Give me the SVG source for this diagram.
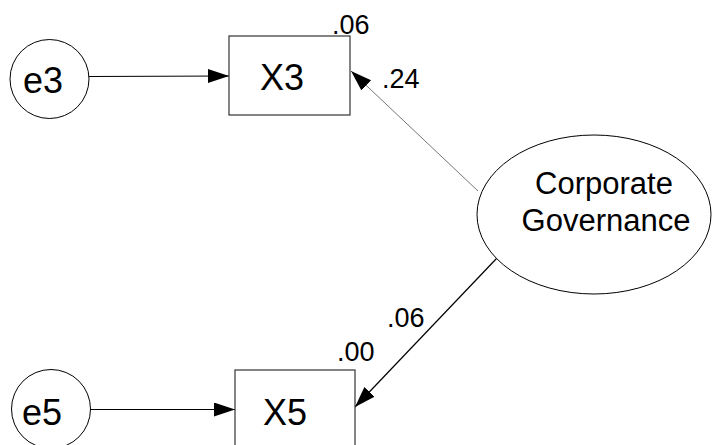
<svg xmlns="http://www.w3.org/2000/svg" width="712" height="445" viewBox="0 0 712 445">
  <style>
    .shape { fill: #ffffff; stroke: #000000; stroke-width: 1; }
    .box { fill: #ffffff; stroke: #333333; stroke-width: 1.2; }
    .lbl { font-family: "Liberation Sans", Arial, sans-serif; fill: #000000; }
    .node { font-size: 36px; }
    .latent { font-size: 31px; }
    .coef { font-size: 27px; }
    .path { stroke: #000000; stroke-width: 1.2; fill: none; }
    .thin { stroke: #777777; stroke-width: 1; fill: none; }
  </style>
  <defs>
    <marker id="head" markerUnits="userSpaceOnUse" markerWidth="22" markerHeight="15" refX="21" refY="7" orient="auto">
      <path d="M0,0 L21,7 L0,14 Z" fill="#000000"/>
    </marker>
  </defs>

  <rect width="712" height="445" fill="#ffffff"/>

  <!-- paths between variables -->
  <g id="connectors">
    <line class="path" x1="89" y1="76.5" x2="229" y2="76" marker-end="url(#head)"/>
    <line class="thin" x1="478" y1="191" x2="351" y2="71" marker-end="url(#head)"/>
    <line class="path" x1="497" y1="258" x2="355" y2="407" marker-end="url(#head)"/>
    <line class="path" x1="91" y1="409.5" x2="235" y2="409.5" marker-end="url(#head)"/>
  </g>

  <!-- error term e3 -->
  <g id="e3">
    <circle class="shape" cx="49.5" cy="79" r="39.5"/>
    <text class="lbl node" x="23" y="93">e3</text>
  </g>

  <!-- observed X3 -->
  <g id="X3">
    <rect class="box" x="229" y="36" width="121" height="79"/>
    <text class="lbl node" x="260" y="90">X3</text>
    <text class="lbl coef" x="332" y="34">.06</text>
  </g>

  <!-- latent factor -->
  <g id="CG">
    <ellipse class="shape" cx="594" cy="214.5" rx="117" ry="79.5"/>
    <text class="lbl latent" x="604" y="194" text-anchor="middle">Corporate</text>
    <text class="lbl latent" x="606" y="231" text-anchor="middle">Governance</text>
  </g>

  <!-- loadings -->
  <g id="loadings">
    <text class="lbl coef" x="382" y="88">.24</text>
    <text class="lbl coef" x="387" y="327">.06</text>
  </g>

  <!-- observed X5 -->
  <g id="X5">
    <rect class="box" x="235" y="370" width="120" height="79"/>
    <text class="lbl node" x="263" y="425">X5</text>
    <text class="lbl coef" x="337" y="361">.00</text>
  </g>

  <!-- error term e5 -->
  <g id="e5">
    <circle class="shape" cx="51" cy="409" r="39.5"/>
    <text class="lbl node" x="22" y="425">e5</text>
  </g>
</svg>
